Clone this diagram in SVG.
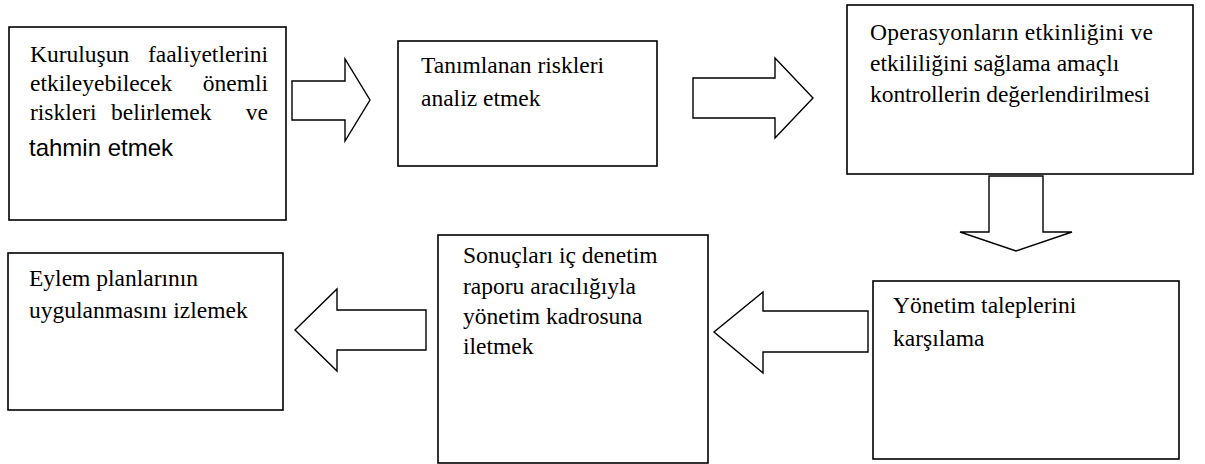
<svg xmlns="http://www.w3.org/2000/svg" width="1205" height="464" viewBox="0 0 1205 464">
<style>
.box{fill:#fff;stroke:#000;stroke-width:1.6}
.arr{fill:#fff;stroke:#000;stroke-width:1.4;stroke-linejoin:miter}
.t{font-size:23.5px;fill:#000}
.s{font-size:24px;fill:#000}
</style>
<rect width="1205" height="464" fill="#fff"/>
<g id="connectors">
<polygon class="arr" points="292,81 345,81 345,59 370,100 345,141 345,120 292,120"/>
<polygon class="arr" points="693,78 775,78 775,58 813,98 775,138 775,118 693,118"/>
<polygon class="arr" points="989,176 1043,176 1043,232 1072,232 1016,251 960,232 989,232"/>
<polygon class="arr" points="868,311 763,311 763,292 714,332 763,373 763,352 868,352"/>
<polygon class="arr" points="426,310 337,310 337,289 295,330 337,371 337,350 426,350"/>
</g>
<g id="node1" font-family="'Liberation Serif', 'DejaVu Serif', serif">
<rect class="box" x="9" y="27" width="277" height="193"/>
<text class="t" x="30" y="62">Kuruluşun</text>
<text class="t" x="268" y="62" text-anchor="end">faaliyetlerini</text>
<text class="t" x="30" y="91">etkileyebilecek</text>
<text class="t" x="268" y="91" text-anchor="end">önemli</text>
<text class="t" x="30" y="120">riskleri</text>
<text class="t" x="111" y="120">belirlemek</text>
<text class="t" x="268" y="120" text-anchor="end">ve</text>
<text class="s" x="29" y="156" font-family="'Liberation Sans', Arial, sans-serif">tahmin etmek</text>
</g>
<g id="node2" font-family="'Liberation Serif', 'DejaVu Serif', serif">
<rect class="box" x="398" y="41" width="259" height="125"/>
<text class="t" x="421" y="73">Tanımlanan riskleri</text>
<text class="t" x="421" y="106">analiz etmek</text>
</g>
<g id="node3" font-family="'Liberation Serif', 'DejaVu Serif', serif">
<rect class="box" x="847" y="5" width="346" height="169"/>
<text class="t" x="870" y="40" textLength="283" lengthAdjust="spacing">Operasyonların etkinliğini ve</text>
<text class="t" x="870" y="71">etkililiğini sağlama amaçlı</text>
<text class="t" x="870" y="102" textLength="280" lengthAdjust="spacing">kontrollerin değerlendirilmesi</text>
</g>
<g id="node4" font-family="'Liberation Serif', 'DejaVu Serif', serif">
<rect class="box" x="873" y="281" width="306" height="178"/>
<text class="t" x="893" y="313">Yönetim taleplerini</text>
<text class="t" x="893" y="346">karşılama</text>
</g>
<g id="node5" font-family="'Liberation Serif', 'DejaVu Serif', serif">
<rect class="box" x="438" y="235" width="270" height="228"/>
<text class="t" x="463" y="263">Sonuçları iç denetim</text>
<text class="t" x="463" y="294">raporu aracılığıyla</text>
<text class="t" x="463" y="324">yönetim kadrosuna</text>
<text class="t" x="463" y="354">iletmek</text>
</g>
<g id="node6" font-family="'Liberation Serif', 'DejaVu Serif', serif">
<rect class="box" x="8" y="253" width="275" height="157"/>
<text class="t" x="29" y="286">Eylem planlarının</text>
<text class="t" x="29" y="318">uygulanmasını izlemek</text>
</g>
</svg>
